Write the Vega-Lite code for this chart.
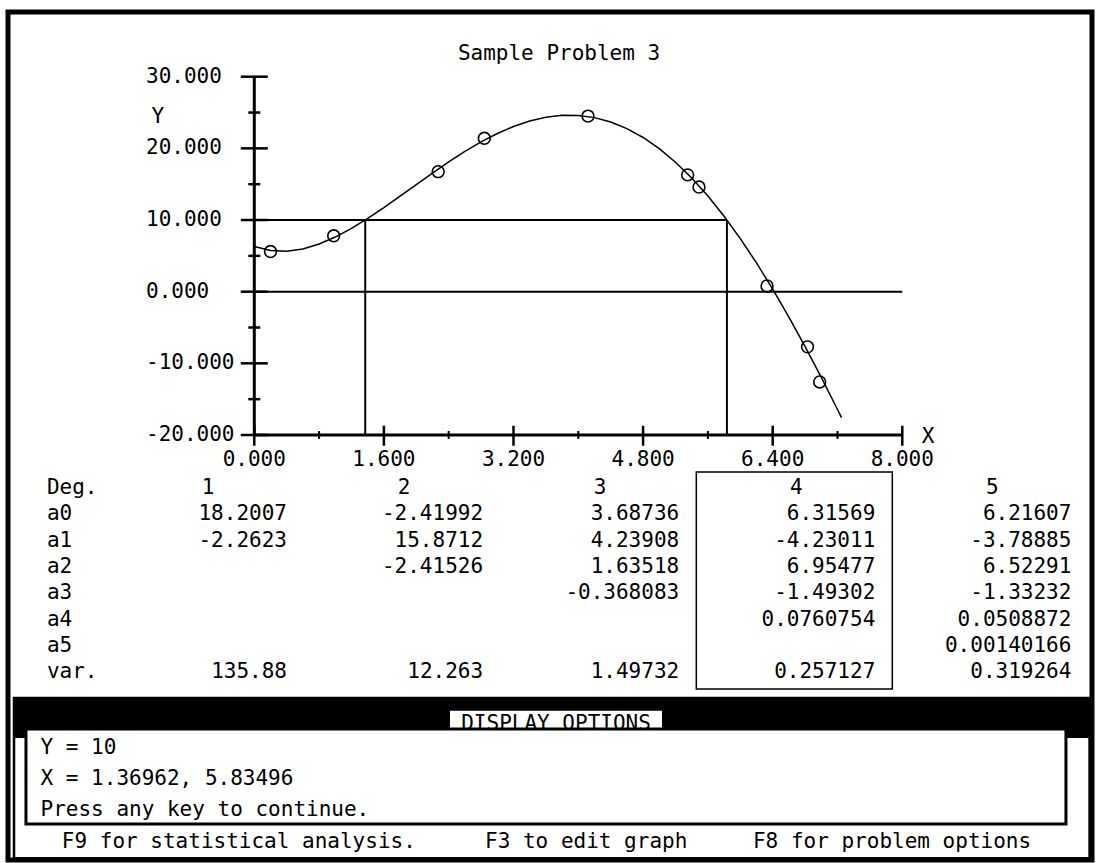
{
  "$schema": "https://vega.github.io/schema/vega-lite/v6.json",
  "width": 1084,
  "height": 848,
  "autosize": {"type": "none"},
  "padding": {"left": 8, "top": 12, "right": 7, "bottom": 3},
  "background": "white",
  "config": {
    "view": {"stroke": "black", "strokeWidth": 5},
    "text": {"font": "DejaVu Sans Mono", "fontSize": 21, "color": "black"}
  },
  "datasets": {
    "curve": [
      {"x": 0, "y": 6.316}, {"x": 0.2, "y": 5.736}, {"x": 0.4, "y": 5.643}, {"x": 0.6, "y": 5.969},
      {"x": 0.8, "y": 6.649}, {"x": 1.0, "y": 7.623}, {"x": 1.2, "y": 8.832}, {"x": 1.4, "y": 10.220},
      {"x": 1.6, "y": 11.735}, {"x": 1.8, "y": 13.326}, {"x": 2.0, "y": 14.948}, {"x": 2.2, "y": 16.555},
      {"x": 2.4, "y": 18.107}, {"x": 2.6, "y": 19.567}, {"x": 2.8, "y": 20.898}, {"x": 3.0, "y": 22.069},
      {"x": 3.2, "y": 23.050}, {"x": 3.4, "y": 23.815}, {"x": 3.6, "y": 24.341}, {"x": 3.8, "y": 24.606},
      {"x": 4.0, "y": 24.594}, {"x": 4.2, "y": 24.289}, {"x": 4.4, "y": 23.680}, {"x": 4.6, "y": 22.758},
      {"x": 4.8, "y": 21.516}, {"x": 5.0, "y": 19.954}, {"x": 5.2, "y": 18.069}, {"x": 5.4, "y": 15.864},
      {"x": 5.6, "y": 13.346}, {"x": 5.8, "y": 10.523}, {"x": 6.0, "y": 7.408}, {"x": 6.2, "y": 4.010},
      {"x": 6.4, "y": 0.358}, {"x": 6.6, "y": -3.537}, {"x": 6.8, "y": -7.656}, {"x": 7.0, "y": -11.960},
      {"x": 7.2, "y": -16.441}, {"x": 7.25, "y": -17.569}
    ],
    "pts": [
      {"x": 0.2, "y": 5.6}, {"x": 0.98, "y": 7.8}, {"x": 2.27, "y": 16.75}, {"x": 2.84, "y": 21.4},
      {"x": 4.12, "y": 24.5}, {"x": 5.35, "y": 16.3}, {"x": 5.49, "y": 14.6}, {"x": 6.33, "y": 0.8},
      {"x": 6.83, "y": -7.7}, {"x": 6.98, "y": -12.6}
    ],
    "guides": [
      {"x1": 0, "x2": 5.83496, "y1": 10, "y2": 10},
      {"x1": 0, "x2": 8, "y1": 0, "y2": 0},
      {"x1": 1.36962, "x2": 1.36962, "y1": -20, "y2": 10},
      {"x1": 5.83496, "x2": 5.83496, "y1": -20, "y2": 10}
    ],
    "axes": [
      {"x1": 0, "x2": 8, "y1": -20, "y2": -20},
      {"x1": 0, "x2": 0, "y1": -20, "y2": 30}
    ],
    "ticks": [
      {"axis": "y", "major": true, "v": -20, "label": "-20.000"},
      {"axis": "y", "major": true, "v": -10, "label": "-10.000"},
      {"axis": "y", "major": true, "v": 0, "label": "0.000"},
      {"axis": "y", "major": true, "v": 10, "label": "10.000"},
      {"axis": "y", "major": true, "v": 20, "label": "20.000"},
      {"axis": "y", "major": true, "v": 30, "label": "30.000"},
      {"axis": "y", "major": false, "v": -15, "label": ""},
      {"axis": "y", "major": false, "v": -5, "label": ""},
      {"axis": "y", "major": false, "v": 5, "label": ""},
      {"axis": "y", "major": false, "v": 15, "label": ""},
      {"axis": "y", "major": false, "v": 25, "label": ""},
      {"axis": "x", "major": true, "v": 0, "label": "0.000"},
      {"axis": "x", "major": true, "v": 1.6, "label": "1.600"},
      {"axis": "x", "major": true, "v": 3.2, "label": "3.200"},
      {"axis": "x", "major": true, "v": 4.8, "label": "4.800"},
      {"axis": "x", "major": true, "v": 6.4, "label": "6.400"},
      {"axis": "x", "major": true, "v": 8, "label": "8.000"},
      {"axis": "x", "major": false, "v": 0.8, "label": ""},
      {"axis": "x", "major": false, "v": 2.4, "label": ""},
      {"axis": "x", "major": false, "v": 4.0, "label": ""},
      {"axis": "x", "major": false, "v": 5.6, "label": ""},
      {"axis": "x", "major": false, "v": 7.2, "label": ""}
    ],
    "table": [
      {"row": 0, "deg": 0, "text": "Deg."},
      {"row": 1, "deg": 0, "text": "a0"},
      {"row": 2, "deg": 0, "text": "a1"},
      {"row": 3, "deg": 0, "text": "a2"},
      {"row": 4, "deg": 0, "text": "a3"},
      {"row": 5, "deg": 0, "text": "a4"},
      {"row": 6, "deg": 0, "text": "a5"},
      {"row": 7, "deg": 0, "text": "var."},
      {"row": 0, "deg": 1, "text": "1"},
      {"row": 0, "deg": 2, "text": "2"},
      {"row": 0, "deg": 3, "text": "3"},
      {"row": 0, "deg": 4, "text": "4"},
      {"row": 0, "deg": 5, "text": "5"},
      {"row": 1, "deg": 1, "text": "18.2007"},
      {"row": 2, "deg": 1, "text": "-2.2623"},
      {"row": 7, "deg": 1, "text": "135.88"},
      {"row": 1, "deg": 2, "text": "-2.41992"},
      {"row": 2, "deg": 2, "text": "15.8712"},
      {"row": 3, "deg": 2, "text": "-2.41526"},
      {"row": 7, "deg": 2, "text": "12.263"},
      {"row": 1, "deg": 3, "text": "3.68736"},
      {"row": 2, "deg": 3, "text": "4.23908"},
      {"row": 3, "deg": 3, "text": "1.63518"},
      {"row": 4, "deg": 3, "text": "-0.368083"},
      {"row": 7, "deg": 3, "text": "1.49732"},
      {"row": 1, "deg": 4, "text": "6.31569"},
      {"row": 2, "deg": 4, "text": "-4.23011"},
      {"row": 3, "deg": 4, "text": "6.95477"},
      {"row": 4, "deg": 4, "text": "-1.49302"},
      {"row": 5, "deg": 4, "text": "0.0760754"},
      {"row": 7, "deg": 4, "text": "0.257127"},
      {"row": 1, "deg": 5, "text": "6.21607"},
      {"row": 2, "deg": 5, "text": "-3.78885"},
      {"row": 3, "deg": 5, "text": "6.52291"},
      {"row": 4, "deg": 5, "text": "-1.33232"},
      {"row": 5, "deg": 5, "text": "0.0508872"},
      {"row": 6, "deg": 5, "text": "0.00140166"},
      {"row": 7, "deg": 5, "text": "0.319264"}
    ],
    "highlight": [{"deg": 4, "r1": 0, "r2": 7}],
    "footerBoxes": [
      {"part": "frame", "c1": 1.02, "c2": 79.3, "l1": -1.6, "l2": 3.53},
      {"part": "bar", "c1": 1.02, "c2": 79.3, "l1": -1.6, "l2": -0.32},
      {"part": "label", "c1": 32.75, "c2": 48.18, "l1": -1.19, "l2": -0.61},
      {"part": "inner", "c1": 1.89, "c2": 77.58, "l1": -0.61, "l2": 2.44}
    ],
    "footerText": [
      {"line": -0.77, "col": 40.47, "text": "DISPLAY OPTIONS", "center": true},
      {"line": 0, "col": 2.95, "text": "Y = 10", "center": false},
      {"line": 1, "col": 2.95, "text": "X = 1.36962, 5.83496", "center": false},
      {"line": 2, "col": 2.95, "text": "Press any key to continue.", "center": false},
      {"line": 3, "col": 4.5, "text": "F9 for statistical analysis.", "center": false},
      {"line": 3, "col": 35.3, "text": "F3 to edit graph", "center": false},
      {"line": 3, "col": 54.8, "text": "F8 for problem options", "center": false}
    ]
  },
  "layer": [
    {
      "layer": [
        {
          "data": {"name": "curve"},
          "mark": {"type": "line", "color": "black", "strokeWidth": 1.5},
          "encoding": {
            "x": {"field": "x", "type": "quantitative", "scale": {"domain": [-3.0407, 10.342], "zero": false, "nice": false}, "axis": null},
            "y": {"field": "y", "type": "quantitative", "scale": {"domain": [-79.308, 39.029], "zero": false, "nice": false}, "axis": null}
          }
        },
        {
          "data": {"name": "pts"},
          "mark": {"type": "point", "shape": "circle", "filled": false, "color": "black", "strokeWidth": 1.6, "size": 140, "opacity": 1},
          "encoding": {
            "x": {"field": "x", "type": "quantitative", "scale": {"domain": [-3.0407, 10.342], "zero": false, "nice": false}, "axis": null},
            "y": {"field": "y", "type": "quantitative", "scale": {"domain": [-79.308, 39.029], "zero": false, "nice": false}, "axis": null}
          }
        },
        {
          "data": {"name": "guides"},
          "mark": {"type": "rule", "color": "black", "strokeWidth": 2},
          "encoding": {
            "x": {"field": "x1", "type": "quantitative", "scale": {"domain": [-3.0407, 10.342], "zero": false, "nice": false}, "axis": null},
            "x2": {"field": "x2"},
            "y": {"field": "y1", "type": "quantitative", "scale": {"domain": [-79.308, 39.029], "zero": false, "nice": false}, "axis": null},
            "y2": {"field": "y2"}
          }
        },
        {
          "data": {"name": "axes"},
          "mark": {"type": "rule", "color": "black", "strokeWidth": 3},
          "encoding": {
            "x": {"field": "x1", "type": "quantitative", "scale": {"domain": [-3.0407, 10.342], "zero": false, "nice": false}, "axis": null},
            "x2": {"field": "x2"},
            "y": {"field": "y1", "type": "quantitative", "scale": {"domain": [-79.308, 39.029], "zero": false, "nice": false}, "axis": null},
            "y2": {"field": "y2"}
          }
        },
        {
          "data": {"name": "ticks"},
          "transform": [{"filter": "datum.axis == 'y' && datum.major"}],
          "mark": {"type": "tick", "orient": "horizontal", "size": 27, "thickness": 2.5, "color": "black", "opacity": 1},
          "encoding": {
            "x": {"datum": 0, "type": "quantitative", "scale": {"domain": [-3.0407, 10.342], "zero": false, "nice": false}, "axis": null},
            "y": {"field": "v", "type": "quantitative", "scale": {"domain": [-79.308, 39.029], "zero": false, "nice": false}, "axis": null}
          }
        },
        {
          "data": {"name": "ticks"},
          "transform": [{"filter": "datum.axis == 'y' && !datum.major"}],
          "mark": {"type": "tick", "orient": "horizontal", "size": 12, "thickness": 2.5, "color": "black", "opacity": 1},
          "encoding": {
            "x": {"datum": 0, "type": "quantitative", "scale": {"domain": [-3.0407, 10.342], "zero": false, "nice": false}, "axis": null},
            "y": {"field": "v", "type": "quantitative", "scale": {"domain": [-79.308, 39.029], "zero": false, "nice": false}, "axis": null}
          }
        },
        {
          "data": {"name": "ticks"},
          "transform": [{"filter": "datum.axis == 'x' && datum.major"}],
          "mark": {"type": "tick", "orient": "vertical", "size": 20, "thickness": 2.5, "color": "black", "opacity": 1},
          "encoding": {
            "x": {"field": "v", "type": "quantitative", "scale": {"domain": [-3.0407, 10.342], "zero": false, "nice": false}, "axis": null},
            "y": {"datum": -20.1, "type": "quantitative", "scale": {"domain": [-79.308, 39.029], "zero": false, "nice": false}, "axis": null}
          }
        },
        {
          "data": {"name": "ticks"},
          "transform": [{"filter": "datum.axis == 'x' && !datum.major"}],
          "mark": {"type": "tick", "orient": "vertical", "size": 8, "thickness": 2, "color": "black", "opacity": 1},
          "encoding": {
            "x": {"field": "v", "type": "quantitative", "scale": {"domain": [-3.0407, 10.342], "zero": false, "nice": false}, "axis": null},
            "y": {"datum": -20, "type": "quantitative", "scale": {"domain": [-79.308, 39.029], "zero": false, "nice": false}, "axis": null}
          }
        },
        {
          "data": {"name": "ticks"},
          "transform": [{"filter": "datum.axis == 'y' && datum.major"}],
          "mark": {"type": "text", "align": "left", "baseline": "middle"},
          "encoding": {
            "x": {"datum": -1.337, "type": "quantitative", "scale": {"domain": [-3.0407, 10.342], "zero": false, "nice": false}, "axis": null},
            "y": {"field": "v", "type": "quantitative", "scale": {"domain": [-79.308, 39.029], "zero": false, "nice": false}, "axis": null},
            "text": {"field": "label"}
          }
        },
        {
          "data": {"name": "ticks"},
          "transform": [{"filter": "datum.axis == 'x' && datum.major"}],
          "mark": {"type": "text", "align": "center", "baseline": "middle"},
          "encoding": {
            "x": {"field": "v", "type": "quantitative", "scale": {"domain": [-3.0407, 10.342], "zero": false, "nice": false}, "axis": null},
            "y": {"datum": -23.49, "type": "quantitative", "scale": {"domain": [-79.308, 39.029], "zero": false, "nice": false}, "axis": null},
            "text": {"field": "label"}
          }
        },
        {
          "data": {"values": [{"t": "Sample Problem 3"}]},
          "mark": {"type": "text", "align": "center", "baseline": "middle"},
          "encoding": {
            "x": {"datum": 3.762, "type": "quantitative", "scale": {"domain": [-3.0407, 10.342], "zero": false, "nice": false}, "axis": null},
            "y": {"datum": 33.17, "type": "quantitative", "scale": {"domain": [-79.308, 39.029], "zero": false, "nice": false}, "axis": null},
            "text": {"field": "t"}
          }
        },
        {
          "data": {"values": [{"t": "Y"}]},
          "mark": {"type": "text", "align": "center", "baseline": "middle"},
          "encoding": {
            "x": {"datum": -1.19, "type": "quantitative", "scale": {"domain": [-3.0407, 10.342], "zero": false, "nice": false}, "axis": null},
            "y": {"datum": 24.38, "type": "quantitative", "scale": {"domain": [-79.308, 39.029], "zero": false, "nice": false}, "axis": null},
            "text": {"field": "t"}
          }
        },
        {
          "data": {"values": [{"t": "X"}]},
          "mark": {"type": "text", "align": "center", "baseline": "middle"},
          "encoding": {
            "x": {"datum": 8.317, "type": "quantitative", "scale": {"domain": [-3.0407, 10.342], "zero": false, "nice": false}, "axis": null},
            "y": {"datum": -20.28, "type": "quantitative", "scale": {"domain": [-79.308, 39.029], "zero": false, "nice": false}, "axis": null},
            "text": {"field": "t"}
          }
        }
      ]
    },
    {
      "layer": [
        {
          "data": {"name": "table"},
          "transform": [{"filter": "datum.deg == 0"}],
          "mark": {"type": "text", "align": "left", "baseline": "middle", "dx": -44},
          "encoding": {
            "x": {"field": "deg", "type": "quantitative", "scale": {"domain": [-0.4227, 5.105], "zero": false, "nice": false}, "axis": null},
            "y": {"field": "row", "type": "quantitative", "scale": {"domain": [-18.099, 14.144], "zero": false, "nice": false, "reverse": true}, "axis": null},
            "text": {"field": "text"}
          }
        },
        {
          "data": {"name": "table"},
          "transform": [{"filter": "datum.deg > 0 && datum.row == 0"}],
          "mark": {"type": "text", "align": "center", "baseline": "middle", "dx": -79},
          "encoding": {
            "x": {"field": "deg", "type": "quantitative", "scale": {"domain": [-0.4227, 5.105], "zero": false, "nice": false}, "axis": null},
            "y": {"field": "row", "type": "quantitative", "scale": {"domain": [-18.099, 14.144], "zero": false, "nice": false, "reverse": true}, "axis": null},
            "text": {"field": "text"}
          }
        },
        {
          "data": {"name": "table"},
          "transform": [{"filter": "datum.deg > 0 && datum.row > 0"}],
          "mark": {"type": "text", "align": "right", "baseline": "middle"},
          "encoding": {
            "x": {"field": "deg", "type": "quantitative", "scale": {"domain": [-0.4227, 5.105], "zero": false, "nice": false}, "axis": null},
            "y": {"field": "row", "type": "quantitative", "scale": {"domain": [-18.099, 14.144], "zero": false, "nice": false, "reverse": true}, "axis": null},
            "text": {"field": "text"}
          }
        },
        {
          "data": {"name": "highlight"},
          "mark": {"type": "rect", "filled": false, "stroke": "black", "strokeWidth": 1.5, "xOffset": -179, "x2Offset": 17, "yOffset": -16, "y2Offset": 17},
          "encoding": {
            "x": {"field": "deg", "type": "quantitative", "scale": {"domain": [-0.4227, 5.105], "zero": false, "nice": false}, "axis": null},
            "x2": {"field": "deg"},
            "y": {"field": "r1", "type": "quantitative", "scale": {"domain": [-18.099, 14.144], "zero": false, "nice": false, "reverse": true}, "axis": null},
            "y2": {"field": "r2"}
          }
        }
      ]
    },
    {
      "layer": [
        {
          "data": {"name": "footerBoxes"},
          "transform": [{"filter": "datum.part == 'frame'"}],
          "mark": {"type": "rect", "fill": "white", "stroke": "black", "strokeWidth": 2.5},
          "encoding": {
            "x": {"field": "c1", "type": "quantitative", "scale": {"domain": [0.5822, 79.476], "zero": false, "nice": false}, "axis": null},
            "x2": {"field": "c2"},
            "y": {"field": "l1", "type": "quantitative", "scale": {"domain": [-23.59, 3.59], "zero": false, "nice": false, "reverse": true}, "axis": null},
            "y2": {"field": "l2"}
          }
        },
        {
          "data": {"name": "footerBoxes"},
          "transform": [{"filter": "datum.part == 'bar'"}],
          "mark": {"type": "rect", "fill": "black"},
          "encoding": {
            "x": {"field": "c1", "type": "quantitative", "scale": {"domain": [0.5822, 79.476], "zero": false, "nice": false}, "axis": null},
            "x2": {"field": "c2"},
            "y": {"field": "l1", "type": "quantitative", "scale": {"domain": [-23.59, 3.59], "zero": false, "nice": false, "reverse": true}, "axis": null},
            "y2": {"field": "l2"}
          }
        },
        {
          "data": {"name": "footerBoxes"},
          "transform": [{"filter": "datum.part == 'label'"}],
          "mark": {"type": "rect", "fill": "white"},
          "encoding": {
            "x": {"field": "c1", "type": "quantitative", "scale": {"domain": [0.5822, 79.476], "zero": false, "nice": false}, "axis": null},
            "x2": {"field": "c2"},
            "y": {"field": "l1", "type": "quantitative", "scale": {"domain": [-23.59, 3.59], "zero": false, "nice": false, "reverse": true}, "axis": null},
            "y2": {"field": "l2"}
          }
        },
        {
          "data": {"name": "footerText"},
          "transform": [{"filter": "datum.center"}],
          "mark": {"type": "text", "align": "center", "baseline": "middle"},
          "encoding": {
            "x": {"field": "col", "type": "quantitative", "scale": {"domain": [0.5822, 79.476], "zero": false, "nice": false}, "axis": null},
            "y": {"field": "line", "type": "quantitative", "scale": {"domain": [-23.59, 3.59], "zero": false, "nice": false, "reverse": true}, "axis": null},
            "text": {"field": "text"}
          }
        },
        {
          "data": {"name": "footerBoxes"},
          "transform": [{"filter": "datum.part == 'inner'"}],
          "mark": {"type": "rect", "fill": "white", "stroke": "black", "strokeWidth": 3},
          "encoding": {
            "x": {"field": "c1", "type": "quantitative", "scale": {"domain": [0.5822, 79.476], "zero": false, "nice": false}, "axis": null},
            "x2": {"field": "c2"},
            "y": {"field": "l1", "type": "quantitative", "scale": {"domain": [-23.59, 3.59], "zero": false, "nice": false, "reverse": true}, "axis": null},
            "y2": {"field": "l2"}
          }
        },
        {
          "data": {"name": "footerText"},
          "transform": [{"filter": "!datum.center"}],
          "mark": {"type": "text", "align": "left", "baseline": "middle"},
          "encoding": {
            "x": {"field": "col", "type": "quantitative", "scale": {"domain": [0.5822, 79.476], "zero": false, "nice": false}, "axis": null},
            "y": {"field": "line", "type": "quantitative", "scale": {"domain": [-23.59, 3.59], "zero": false, "nice": false, "reverse": true}, "axis": null},
            "text": {"field": "text"}
          }
        }
      ]
    }
  ],
  "resolve": {"scale": {"x": "independent", "y": "independent"}}
}
